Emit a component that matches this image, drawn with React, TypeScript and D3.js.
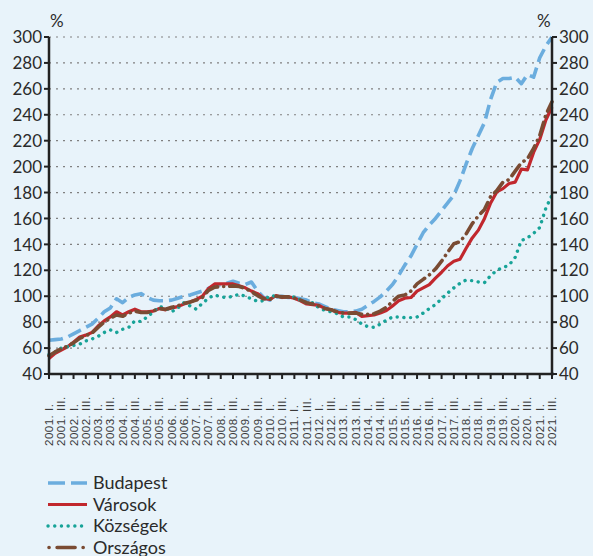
import React from "react";
import * as d3 from "d3";

const years = d3.range(2001, 2022);
const quarterNames = ["I.", "II.", "III.", "IV."];
// quarterly periods 2001 Q1 .. 2021 Q3
const periods: string[] = [];
years.forEach((y) => quarterNames.forEach((q) => periods.push(`${y}. ${q}`)));
periods.splice(83);

const budapest = [66, 66.5, 67, 68.5, 71, 73.5, 76, 78.5, 83, 88, 91, 98, 95, 99, 101, 102, 99, 97, 96.5, 96.5,
  97, 98.5, 100, 101, 102.5, 104, 106, 108, 109, 110, 111.5, 110, 109, 111, 104, 99, 97, 99.5, 100, 99,
  99, 98, 97, 95, 94, 92, 90, 89, 88, 88, 88.5, 90, 93, 96, 99.5, 104, 109, 116, 124, 131,
  140, 149, 155, 160, 166, 172, 178, 189, 202, 214, 224, 234, 252, 265, 268, 268, 269, 264, 271, 269,
  284, 293, 300];
const varosok = [52, 56, 58.5, 61, 64.5, 68.5, 70, 72, 77, 81, 84, 88, 85.5, 88, 90, 88, 88, 88.5, 90.5, 89.5,
  91, 92, 94, 95.5, 97.5, 100, 106, 109.5, 109.5, 109.5, 109.5, 108, 106.5, 104, 102, 98.5, 97.5, 100.5, 99, 99.5,
  98.5, 96.5, 94, 93.5, 93, 90.5, 89.5, 87.5, 87, 87, 87.5, 84.5, 85, 85.5, 87, 89, 92.5, 96.5, 98.5, 99,
  104, 106.5, 109, 114, 118.5, 123.5, 127, 128.5, 137, 145, 151, 160, 172, 180.5, 183, 187, 188, 198, 197.5, 211,
  221, 236, 246];
const kozsegek = [55, 57, 60, 61, 62, 63, 65.5, 67, 69, 72, 74, 72, 74.5, 76, 81, 80.5, 84, 88, 92, 91,
  88, 91, 95, 92.5, 90, 94.5, 98.5, 101, 99.5, 99, 100, 101.5, 100, 98, 96, 96.5, 100.5, 100, 99.5, 99.5,
  99.5, 97, 95, 95, 91, 89, 88, 86.5, 84, 84, 82, 78.5, 76.5, 76, 78.5, 81.5, 84, 84, 83.5, 83.5,
  84, 87, 90.5, 93.5, 98, 102.5, 106.5, 110, 112.5, 112, 111, 110.5, 116, 120, 122, 124, 130, 143, 145, 148.5,
  153, 168, 178];
const orszagos = [54, 57, 59.5, 61.5, 64, 67.5, 69.5, 71.5, 76, 80, 83, 85.5, 84.5, 87, 88.5, 87.5, 87.5, 88.5, 90.5, 90,
  91.5, 92.5, 94.5, 95.5, 97, 99, 104.5, 107, 107.5, 107.5, 108, 107.5, 106, 103.5, 100.5, 98, 97.5, 100, 99.5, 99.5,
  98.5, 97, 95, 94, 92.5, 90.5, 89.5, 88, 87, 87, 87, 86, 86, 86.5, 88.5, 91.5, 96, 100, 101, 104,
  109.5, 113, 116.5, 121, 127, 134, 140.5, 142, 148, 156, 162, 167, 177, 181.5, 188, 190, 196.5, 203, 206, 214,
  224, 240, 250];

const yTicks = [40, 60, 80, 100, 120, 140, 160, 180, 200, 220, 240, 260, 280, 300];
const seriesNames = ["Budapest", "Városok", "Községek", "Országos"];

const W = 593, H = 556;
const M = { left: 49, right: 552, top: 37, bottom: 374 };
const FONT = "Lato, 'Open Sans', sans-serif";
const TEXT = "#2b2b2b";

const styles = [
  { color: "#6badde", width: 3.6, dash: "14,6", cap: "butt" },
  { color: "#c1272d", width: 3.2, dash: "", cap: "butt" },
  { color: "#17a398", width: 3.4, dash: "0.1,6.6", cap: "round" },
  { color: "#7a4b33", width: 3.6, dash: "13,6,0.1,6", cap: "round" },
];

export default function App() {
  const x = d3.scaleLinear().domain([0, periods.length - 1]).range([M.left, M.right]);
  const y = d3.scaleLinear().domain([40, 300]).range([M.bottom, M.top]);
  const line = d3.line<number>().x((_, i) => x(i)).y((v) => y(v));
  const data = [budapest, varosok, kozsegek, orszagos];
  const labelIdx = periods.map((p, i) => i).filter((i) => i % 2 === 0);

  return (
    <svg width={W} height={H} style={{ position: "absolute", left: 0, top: 0 }} fontFamily={FONT}>
      <rect width={W} height={H} fill="#e8f3fa" />
      {yTicks.slice(1).map((t) => (
        <line key={t} x1={M.left} x2={M.right} y1={y(t)} y2={y(t)} stroke="#808080" strokeWidth={1.2} strokeDasharray="2,5" />
      ))}
      {data.map((d, k) => (
        <path key={k} d={line(d) || ""} fill="none" stroke={styles[k].color} strokeWidth={styles[k].width}
          strokeDasharray={styles[k].dash || undefined} strokeLinecap={styles[k].cap as any} strokeLinejoin="round" />
      ))}
      {/* axes */}
      <line x1={M.left} x2={M.left} y1={M.top} y2={M.bottom} stroke="#222" strokeWidth={2.5} />
      <line x1={M.right} x2={M.right} y1={M.top} y2={M.bottom} stroke="#222" strokeWidth={2.5} />
      <line x1={M.left} x2={M.right + 2} y1={M.bottom} y2={M.bottom} stroke="#222" strokeWidth={2.5} />
      {yTicks.map((t) => (
        <g key={t}>
          <line x1={M.left - 5} x2={M.left} y1={y(t)} y2={y(t)} stroke="#222" strokeWidth={2} />
          <line x1={M.right} x2={M.right + 5} y1={y(t)} y2={y(t)} stroke="#222" strokeWidth={2} />
          <text x={M.left - 7} y={y(t)} dy="0.36em" textAnchor="end" fontSize={17} fill={TEXT}>{t}</text>
          <text x={M.right + 7} y={y(t)} dy="0.36em" textAnchor="start" fontSize={17} fill={TEXT}>{t}</text>
        </g>
      ))}
      <text x={M.left + 1} y={27} fontSize={17} fill={TEXT}>%</text>
      <text x={M.right - 15} y={27} fontSize={17} fill={TEXT}>%</text>
      {labelIdx.map((i) => (
        <g key={i}>
          <line x1={x(i)} x2={x(i)} y1={M.bottom} y2={M.bottom + 5} stroke="#222" strokeWidth={2} />
          <text transform={`translate(${x(i) + 4},446) rotate(-90)`} fontSize={11.5} letterSpacing={0.5}
            fontFamily="'Liberation Sans', Arial, sans-serif" fill="#3a3a3a">{periods[i]}</text>
        </g>
      ))}
      {/* legend */}
      {seriesNames.map((n, k) => {
        const ly = 483 + k * 21.5;
        return (
          <g key={n}>
            <line x1={k === 3 ? 49 : 48} x2={87} y1={ly} y2={ly} stroke={styles[k].color} strokeWidth={styles[k].width}
              strokeDasharray={k === 0 ? "17,6" : k === 3 ? "0.1,8,18,8" : styles[k].dash || undefined}
              strokeLinecap={styles[k].cap as any} />
            <text x={93} y={ly} dy="0.36em" fontSize={18} fill={TEXT}>{n}</text>
          </g>
        );
      })}
    </svg>
  );
}
